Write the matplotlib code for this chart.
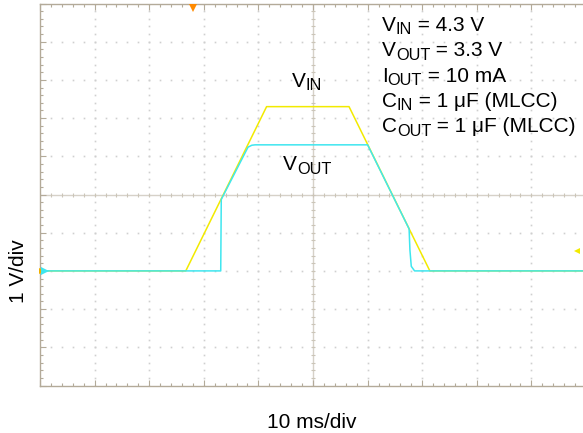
import numpy as np
import matplotlib.pyplot as plt
from matplotlib.transforms import IdentityTransform

plt.rcParams['font.family'] = ['Liberation Sans', 'DejaVu Sans']

# Scope traces: time in ms, voltage in V (ground reference = 0 V)
vin_t = [-50, -23.3, -8.5, 6.6, 21.4, 50]
vin_v = [0, 0, 4.3, 4.3, 0, 0]

vout_t = [-50, -16.9, -16.8, -11.9, -11.2, -10.6, 10.0, 17.6, 17.75, 18.0, 18.6, 50]
vout_v = [0, 0, 1.87, 3.24, 3.29, 3.3, 3.3, 1.1, 0.55, 0.12, 0, 0]

# (text, is_subscript) pieces of each condition line
conditions = [
    [('V', False), ('IN', True), (' = 4.3 V', False)],
    [('V', False), ('OUT', True), (' = 3.3 V', False)],
    [('I', False), ('OUT', True), (' = 10 mA', False)],
    [('C', False), ('IN', True), (' = 1 μF (MLCC)', False)],
    [('C', False), ('OUT', True), (' = 1 μF (MLCC)', False)],
]

frame = '#b3aa99'
dots = '#cfcfcf'
yellow = '#f2ea00'
cyan = '#3fe6ef'

W, H = 583, 433
fig = plt.figure(figsize=(W / 100, H / 100), dpi=100)
ax = fig.add_axes([40 / W, 47.5 / H, 546 / W, 382 / H])
ax.set_xlim(-50, 50)
ax.set_ylim(-3, 7)

for s in ax.spines.values():
    s.set_color(frame)
    s.set_linewidth(1.0)

ax.set_xticks(np.arange(-50, 51, 10))
ax.set_xticks(np.arange(-50, 51, 2), minor=True)
ax.set_yticks(np.arange(-3, 8, 1))
ax.set_yticks(np.arange(-3, 7.01, 0.2), minor=True)
ax.tick_params(which='both', direction='in', top=True, right=False,
               labelbottom=False, labelleft=False, color=frame, width=0.8)
ax.tick_params(which='major', length=4.5)
ax.tick_params(which='minor', length=2.5)

# dotted graticule
xminor = np.arange(-50, 51, 2)
yminor = np.arange(-3, 7.01, 0.2)
for gx in range(-40, 50, 10):
    if gx != 0:
        ax.plot(np.full_like(yminor, gx), yminor, ls='none', marker='s',
                ms=1.2, mew=0, color=dots, zorder=1)
for gy in range(-2, 7):
    if gy != 2:
        ax.plot(xminor, np.full_like(xminor, gy, dtype=float), ls='none',
                marker='s', ms=1.2, mew=0, color=dots, zorder=1)

# centre cross with its own small ticks
ax.axvline(0, color='#d6d1c8', lw=1.0, zorder=1)
ax.axhline(2, color='#d6d1c8', lw=1.0, zorder=1)
ax.plot(xminor, np.full_like(xminor, 2, dtype=float), ls='none', marker='|',
        ms=3.5, mew=0.8, color='#cbc5b8', zorder=1)
ax.plot(np.zeros_like(yminor), yminor, ls='none', marker='_',
        ms=3.5, mew=0.8, color='#cbc5b8', zorder=1)

ax.plot(vin_t, vin_v, color=yellow, lw=1.1, zorder=3)
ax.plot(vout_t, vout_v, color=cyan, lw=1.1, zorder=4)

# channel ground, trigger position and trigger level markers
ax.plot(-49.6, 0, marker='>', ms=5, color='#f0b000', mew=0, clip_on=False, zorder=5)
ax.plot(-49.0, 0, marker='>', ms=6, color=cyan, mew=0, clip_on=False, zorder=6)
ax.plot(-22.0, 6.88, marker='v', ms=6, color='#ff8a00', mew=0, clip_on=False, zorder=6)
ax.plot(48.4, 0.52, marker='<', ms=5, color=yellow, mew=0, clip_on=False, zorder=6)

renderer = fig.canvas.get_renderer()


def label(x, y, parts, size=15):
    # x, y in pixels from the top-left corner, y is the baseline
    for txt, sub in parts:
        fs = size * 0.78 if sub else size
        dy = -3.5 if sub else 0
        t = fig.text(x, H - y + dy, txt, fontsize=fs, va='baseline',
                     transform=IdentityTransform())
        x = t.get_window_extent(renderer).x1


label(292, 87, [('V', False), ('IN', True)])
label(283, 170, [('V', False), ('OUT', True)])

for i, parts in enumerate(conditions):
    label(382, 31 + 25.3 * i, parts)

fig.text(312 / W, 1 - 428 / H, '10 ms/div', fontsize=15, ha='center', va='baseline')
fig.text(19 / W, 1 - 271 / H, '1 V/div', fontsize=15, rotation=90,
         ha='center', va='center')

fig.savefig('out.png', dpi=100)
